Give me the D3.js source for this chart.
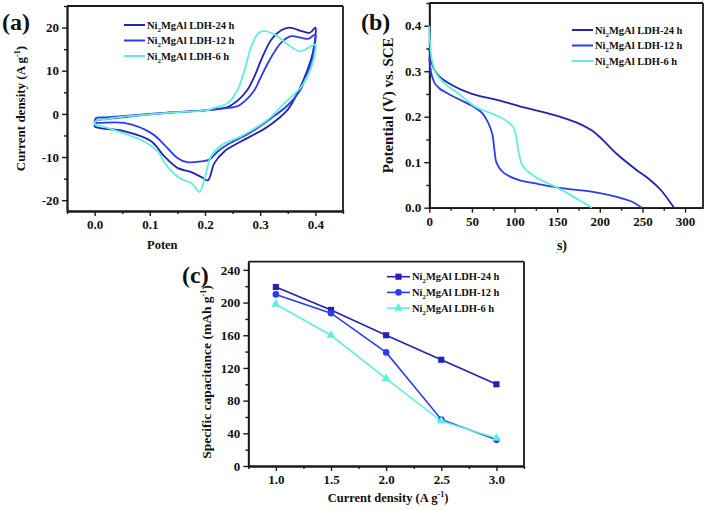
<!DOCTYPE html>
<html><head><meta charset="utf-8">
<script src="https://cdn.jsdelivr.net/npm/d3@7"></script>
<style>
body{margin:0;background:#fff}
text{font-family:"Liberation Serif","Times New Roman",serif;font-weight:bold;fill:#111}
</style></head>
<body><svg id="fig" width="709" height="510"></svg>
<script>
// ---------- data ----------
const seriesLabels = ["24 h", "12 h", "6 h"];
const seriesColors = ["#2323b0", "#2a3df2", "#5ff0dc"];

// (a) CV loops: [potential V, current density A/g]
const cv24 = [[0,-3.0],[0.002,-1.6],[0.02,-1.2],[0.05,-0.8],[0.1,-0.1],[0.15,0.4],[0.2,0.8],[0.225,1.2],[0.241,1.6],[0.26,3.2],[0.277,5.6],[0.29,8.8],[0.302,12.6],[0.32,17.2],[0.338,19.4],[0.353,20.0],[0.375,19.2],[0.39,18.8],[0.4,20.0],
  [0.4,18],[0.395,14],[0.385,10],[0.37,5.5],[0.35,1.0],[0.314,-2.9],[0.265,-6.4],[0.235,-8.7],[0.217,-11.4],[0.205,-15.4],[0.193,-14.6],[0.175,-13.5],[0.15,-12.5],[0.126,-9.8],[0.102,-6.3],[0.053,-4.0],[0.01,-3.3],[0,-3.0]];
const cv12 = [[0,-2.1],[0.002,-1.0],[0.02,-0.8],[0.05,-0.5],[0.1,0.0],[0.15,0.4],[0.2,0.8],[0.235,1.3],[0.259,1.8],[0.275,3.3],[0.29,5.6],[0.3,8.2],[0.314,11.8],[0.328,14.8],[0.338,16.5],[0.356,18.0],[0.375,17.6],[0.387,17.4],[0.4,18.4],
  [0.4,17],[0.395,13],[0.385,9],[0.37,5],[0.35,2],[0.32,-1],[0.28,-4.5],[0.241,-7.1],[0.223,-8.7],[0.208,-10.6],[0.193,-11.0],[0.168,-11.2],[0.15,-10.2],[0.126,-7.1],[0.102,-4.4],[0.053,-2.1],[0.01,-2.1],[0,-2.1]];
const cv6 = [[0,-2.5],[0.002,-1.6],[0.02,-1.2],[0.05,-0.7],[0.1,-0.1],[0.15,0.4],[0.2,0.8],[0.217,1.4],[0.241,2.5],[0.259,5.6],[0.272,10.3],[0.284,15.7],[0.296,18.6],[0.304,19.2],[0.326,18.4],[0.35,16.1],[0.372,14.5],[0.387,15.3],[0.4,16.1],
  [0.4,15],[0.393,11.0],[0.375,6.4],[0.344,2.5],[0.314,-1.3],[0.265,-5.2],[0.229,-7.3],[0.211,-9.8],[0.202,-13.7],[0.193,-17.6],[0.19,-18.1],[0.175,-16.0],[0.156,-15.0],[0.132,-12.2],[0.114,-8.7],[0.09,-6.4],[0.041,-4.0],[0.01,-2.8],[0,-2.5]];

// (b) discharge curves: [time s, potential V]
const gcd24 = [[0,0.35],[1,0.335],[3,0.318],[6,0.303],[12,0.288],[28,0.268],[50,0.25],[79,0.237],[106,0.223],[130,0.212],[153,0.2],[173,0.187],[192,0.168],[204,0.148],[220,0.118],[243,0.083],[259,0.061],[271,0.04],[287,0]];
const gcd12 = [[0,0.33],[1,0.31],[3,0.29],[6,0.275],[12,0.262],[18,0.255],[34,0.239],[50,0.224],[61.5,0.209],[69,0.187],[74,0.161],[76.3,0.128],[79,0.098],[87,0.077],[104.5,0.061],[128,0.052],[155,0.043],[192,0.035],[220,0.024],[238,0.013],[249,0]];
const gcd6 = [[0,0.4],[1,0.36],[3,0.325],[8,0.295],[20,0.27],[35,0.25],[54,0.222],[73,0.207],[89,0.193],[98.6,0.176],[102.6,0.15],[104.5,0.124],[110,0.091],[124,0.068],[151,0.043],[173,0.02],[190.6,0]];

// (c) rate capability
const currentDensity = [1.0, 1.5, 2.0, 2.5, 3.0];
const cap24 = [219, 191, 160, 130, 100];
const cap12 = [210, 187, 139, 57, 32];
const cap6 = [198, 160, 107, 55, 34];

// ticks
const cvXTicks = [0, 0.1, 0.2, 0.3, 0.4], cvXMinor = [-0.05, 0.05, 0.15, 0.25, 0.35, 0.45];
const cvYTicks = [-20, -10, 0, 10, 20], cvYMinor = [-15, -5, 5, 15, 25];
const gcdXTicks = [0, 50, 100, 150, 200, 250, 300], gcdXMinor = [25, 75, 125, 175, 225, 275];
const gcdYTicks = [0, 0.1, 0.2, 0.3, 0.4], gcdYMinor = [0.05, 0.15, 0.25, 0.35, 0.45];
const rateXTicks = [1.0, 1.5, 2.0, 2.5, 3.0], rateXMinor = [0.75, 1.25, 1.75, 2.25, 2.75, 3.25];
const rateYTicks = [0, 40, 80, 120, 160, 200, 240], rateYMinor = [20, 60, 100, 140, 180, 220];

// ---------- drawing ----------
const svg = d3.select("#fig");
const AX = "#1a1a1a";

function panel(g, o) {
  const x = d3.scaleLinear().domain(o.xd).range([o.l, o.r]);
  const y = d3.scaleLinear().domain(o.yd).range([o.b, o.t]);
  const styleAxis = sel => {
    sel.select(".domain").attr("stroke", AX).attr("stroke-width", 1.8);
    sel.selectAll(".tick line").attr("stroke", AX).attr("stroke-width", 1.4);
    sel.selectAll(".tick text").attr("font-size", 13).attr("fill", "#111")
      .attr("font-family", '"Liberation Serif","Times New Roman",serif').attr("font-weight", "bold");
  };
  g.append("g").attr("transform", `translate(0,${o.b})`)
    .call(d3.axisBottom(x).tickValues(o.xMinor).tickSize(3).tickSizeOuter(0).tickFormat(""))
    .call(styleAxis);
  g.append("g").attr("transform", `translate(0,${o.b})`)
    .call(d3.axisBottom(x).tickValues(o.xTicks).tickSize(5).tickSizeOuter(0).tickPadding(4).tickFormat(o.xf))
    .call(styleAxis);
  g.append("g").attr("transform", `translate(${o.l},0)`)
    .call(d3.axisLeft(y).tickValues(o.yMinor).tickSize(3).tickSizeOuter(0).tickFormat(""))
    .call(styleAxis);
  g.append("g").attr("transform", `translate(${o.l},0)`)
    .call(d3.axisLeft(y).tickValues(o.yTicks).tickSize(5).tickSizeOuter(0).tickPadding(3).tickFormat(o.yf))
    .call(styleAxis);
  g.append("line").attr("x1", o.l).attr("x2", o.r).attr("y1", o.t).attr("y2", o.t).attr("stroke", AX).attr("stroke-width", 1.8);
  g.append("line").attr("x1", o.r).attr("x2", o.r).attr("y1", o.t).attr("y2", o.b).attr("stroke", AX).attr("stroke-width", 1.8);
  return {x, y};
}

function legendLabel(sel, lab, fs) {
  sel.append("tspan").text("Ni");
  sel.append("tspan").attr("font-size", fs * 0.65).attr("dy", 3).text("2");
  sel.append("tspan").attr("dy", -3).text("MgAl LDH-" + lab);
}

function titleWithSup(sel, main) {
  sel.append("tspan").text(main);
  sel.append("tspan").attr("font-size", 8).attr("dy", -5).text("-1");
  sel.append("tspan").attr("dy", 5).text(")");
}

const fmtInt = d => String(d);
const fmt1 = d => d.toFixed(1);

// ----- panel (a) -----
const ga = svg.append("g");
const A = {l: 67, r: 343, t: 6, b: 211};
const sa = panel(ga, {...A, xd: [-0.05, 0.45], yd: [-22.5, 25], xTicks: cvXTicks, xMinor: cvXMinor, yTicks: cvYTicks, yMinor: cvYMinor, xf: fmt1, yf: fmtInt});
const lineA = d3.line().x(d => sa.x(d[0])).y(d => sa.y(d[1])).curve(d3.curveCatmullRom.alpha(0.5));
[cv24, cv12, cv6].forEach((s, i) => {
  ga.append("path").datum(s).attr("d", lineA).attr("fill", "none").attr("stroke", seriesColors[i]).attr("stroke-width", 1.8);
});
seriesLabels.forEach((lab, i) => {
  const yy = 25 + i * 15.5;
  ga.append("line").attr("x1", 124).attr("x2", 145).attr("y1", yy).attr("y2", yy).attr("stroke", seriesColors[i]).attr("stroke-width", 2);
  legendLabel(ga.append("text").attr("x", 147).attr("y", yy + 3.5).attr("font-size", 10.5), lab, 10.5);
});
ga.append("text").attr("transform", `translate(25,${(A.t + A.b) / 2}) rotate(-90)`).attr("text-anchor", "middle").attr("font-size", 13)
  .call(s => titleWithSup(s, "Current density (A g"));
ga.append("text").attr("x", 147).attr("y", 249).attr("font-size", 12.5).text("Potential (V) vs. SCE");
ga.append("text").attr("x", 2).attr("y", 30).attr("font-size", 24).text("(a)");

// ----- panel (b) -----
const gb = svg.append("g");
const B = {l: 429.3, r: 703, t: 3, b: 207.7};
const sb = panel(gb, {...B, xd: [0, 321], yd: [0, 0.45], xTicks: gcdXTicks, xMinor: gcdXMinor, yTicks: gcdYTicks, yMinor: gcdYMinor, xf: fmtInt, yf: fmt1});
const lineB = d3.line().x(d => sb.x(d[0])).y(d => sb.y(d[1])).curve(d3.curveCatmullRom.alpha(0.5));
[gcd24, gcd12, gcd6].forEach((s, i) => {
  gb.append("path").datum(s).attr("d", lineB).attr("fill", "none").attr("stroke", seriesColors[i]).attr("stroke-width", 1.8);
});
seriesLabels.forEach((lab, i) => {
  const yy = 30 + i * 15.5;
  gb.append("line").attr("x1", 572).attr("x2", 593).attr("y1", yy).attr("y2", yy).attr("stroke", seriesColors[i]).attr("stroke-width", 2);
  legendLabel(gb.append("text").attr("x", 595).attr("y", yy + 3.5).attr("font-size", 10.5), lab, 10.5);
});
gb.append("text").attr("transform", `translate(393,${(B.t + B.b) / 2}) rotate(-90)`).attr("text-anchor", "middle").attr("font-size", 15).text("Potential (V) vs. SCE");
gb.append("text").attr("x", 567).attr("y", 250).attr("text-anchor", "end").attr("font-size", 14).text("Time (s)");
gb.append("text").attr("x", 361).attr("y", 30).attr("font-size", 24).text("(b)");

// ----- panel (c) -----
svg.append("rect").attr("x", 178).attr("y", 237).attr("width", 378).attr("height", 273).attr("fill", "#fff");
const gc = svg.append("g");
const C = {l: 248.3, r: 524, t: 261.7, b: 466};
const sc = panel(gc, {...C, xd: [0.75, 3.25], yd: [0, 250], xTicks: rateXTicks, xMinor: rateXMinor, yTicks: rateYTicks, yMinor: rateYMinor, xf: fmt1, yf: fmtInt});
const lineC = d3.line().x((d, i) => sc.x(currentDensity[i])).y(d => sc.y(d));
const symbols = [d3.symbolSquare, d3.symbolCircle, d3.symbolTriangle];
const symSize = [38, 34, 34];
[cap24, cap12, cap6].forEach((s, i) => {
  gc.append("path").datum(s).attr("d", lineC).attr("fill", "none").attr("stroke", seriesColors[i]).attr("stroke-width", 1.6);
  gc.selectAll(null).data(s).join("path")
    .attr("transform", (d, j) => `translate(${sc.x(currentDensity[j])},${sc.y(d)})`)
    .attr("d", d3.symbol().type(symbols[i]).size(symSize[i])).attr("fill", seriesColors[i]);
});
seriesLabels.forEach((lab, i) => {
  const yy = 276.7 + i * 15.7;
  gc.append("line").attr("x1", 387).attr("x2", 410).attr("y1", yy).attr("y2", yy).attr("stroke", seriesColors[i]).attr("stroke-width", 1.6);
  gc.append("path").attr("transform", `translate(398.5,${yy})`).attr("d", d3.symbol().type(symbols[i]).size(symSize[i])).attr("fill", seriesColors[i]);
  legendLabel(gc.append("text").attr("x", 412).attr("y", yy + 3.5).attr("font-size", 10.5), lab, 10.5);
});
gc.append("text").attr("transform", `translate(211,372) rotate(-90)`).attr("text-anchor", "middle").attr("font-size", 13.5)
  .call(s => titleWithSup(s, "Specific capacitance (mAh g"));
gc.append("text").attr("x", 388).attr("y", 502).attr("text-anchor", "middle").attr("font-size", 12.5)
  .call(s => titleWithSup(s, "Current density (A g"));
gc.append("text").attr("x", 182).attr("y", 283).attr("font-size", 24).text("(c)");
</script></body></html>
